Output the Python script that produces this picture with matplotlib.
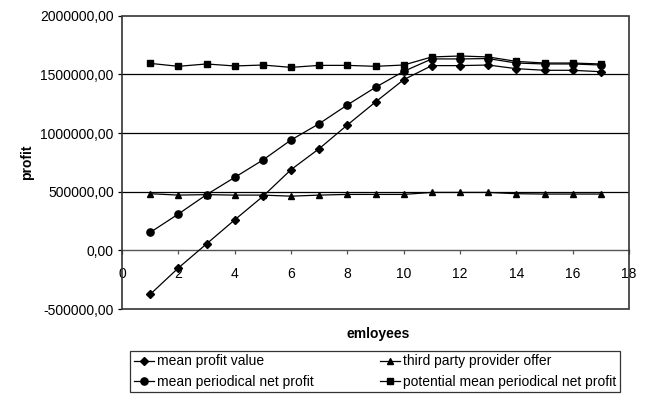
import matplotlib
matplotlib.use("Agg")
import matplotlib.pyplot as plt
from matplotlib.patches import Rectangle
from matplotlib.ticker import FuncFormatter, MultipleLocator

plt.rcParams['font.family'] = ['Liberation Sans', 'DejaVu Sans']

employees = list(range(1, 18))

mean_profit_value = [-375000, -150000, 55000, 260000, 460000, 688000, 867000,
                     1069000, 1265000, 1455000, 1575000, 1575000, 1580000,
                     1549000, 1535000, 1535000, 1523000]
mean_periodical_net_profit = [153000, 310000, 475000, 622000, 770000, 941000,
                              1080000, 1240000, 1390000, 1526000, 1632000,
                              1632000, 1635000, 1597000, 1589000, 1589000, 1580000]
third_party_offer = [483000, 471000, 475000, 471000, 471000, 462000, 471000,
                     477000, 477000, 477000, 494000, 494000, 494000, 483000,
                     480000, 480000, 480000]
potential_mean_net_profit = [1594000, 1569000, 1589000, 1572000, 1580000, 1560000,
                             1577000, 1577000, 1569000, 1580000, 1649000, 1657000,
                             1649000, 1611000, 1597000, 1597000, 1589000]

fig = plt.figure(figsize=(6.47, 3.94), dpi=100)
ax = fig.add_axes([0.1886, 0.2157, 0.7836, 0.7443])

ax.set_xlim(0, 18)
ax.set_ylim(-500000, 2000000)

for y in (500000, 1000000, 1500000):
    ax.axhline(y, color='black', linewidth=0.9, zorder=1)

kw = dict(color='black', linewidth=0.9, zorder=3)
l1, = ax.plot(employees, mean_profit_value, marker='D', markersize=3.6, label='mean profit value', **kw)
l2, = ax.plot(employees, mean_periodical_net_profit, marker='o', markersize=5.2, label='mean periodical net profit', **kw)
l3, = ax.plot(employees, third_party_offer, marker='^', markersize=5, label='third party provider offer', **kw)
l4, = ax.plot(employees, potential_mean_net_profit, marker='s', markersize=4.6, label='potential mean periodical net profit', **kw)

# x axis crosses at zero, plot area keeps a full frame
for side in ('top', 'right', 'left'):
    ax.spines[side].set_visible(False)
ax.spines['bottom'].set_position(('data', 0))
ax.spines['bottom'].set_color('#555555')
ax.spines['bottom'].set_linewidth(1.0)
ax.add_patch(Rectangle((0, 0), 1, 1, transform=ax.transAxes, fill=False,
                       edgecolor='#333333', linewidth=1.2, clip_on=False, zorder=4))

ax.xaxis.set_major_locator(MultipleLocator(2))
ax.yaxis.set_major_locator(MultipleLocator(500000))
ax.yaxis.set_major_formatter(FuncFormatter(lambda v, p: f"{v:.2f}".replace('.', ',')))
ax.tick_params(axis='x', direction='out', length=3, width=0.9, color='#555555',
               labelsize=10, pad=9)
ax.tick_params(axis='y', direction='out', length=3, width=0.9, labelsize=10, pad=3)

fig.text(0.042, 0.587, 'profit', rotation=90, ha='center', va='center',
         fontsize=10, fontweight='bold')
fig.text(0.585, 0.152, 'emloyees', ha='center', va='center',
         fontsize=10, fontweight='bold')

leg = fig.legend(handles=[l1, l2, l3, l4], ncol=2, loc='center',
                 bbox_to_anchor=(0.5796, 0.057),
                 fontsize=10, frameon=True, fancybox=False, edgecolor='black',
                 handlelength=1.45, handletextpad=0.2, borderpad=0.25,
                 labelspacing=0.45, columnspacing=4.8, borderaxespad=0)
leg.get_frame().set_linewidth(0.9)

fig.savefig('out.png', dpi=100)
